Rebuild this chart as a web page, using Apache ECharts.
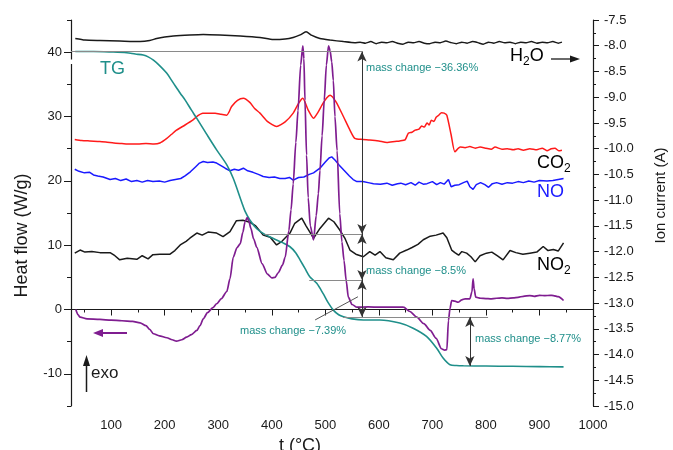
<!DOCTYPE html>
<html><head><meta charset="utf-8">
<script src="https://cdn.jsdelivr.net/npm/echarts@6/dist/echarts.min.js"></script>
<style>html,body{margin:0;padding:0;background:#fff}#c{width:673px;height:450px}</style>
</head><body><div id="c"></div>
<script>
const FONT = '"Liberation Sans", Arial, sans-serif';
// tick labels
const xTicks = [100,200,300,400,500,600,700,800,900,1000];
const xMinorTicks = [50,150,250,350,450,550,650,750,850,950];
const hfTicks = [-10,0,10,20,30,40];
const hfMinorTicks = [-15,-5,5,15,25,35,45];

// Heat flow (W/g), left axis
const heatFlow = [[34,0],[38,-0.8],[42,-1.2],[55,-1.45],[79,-1.55],[100,-1.65],[120,-1.75],[140,-1.85],[154,-2.07],[165,-2.5],[172,-3.1],[179,-3.77],[190,-4.1],[204,-4.39],[214,-4.7],[222,-4.92],[232,-4.7],[241,-4.3],[250,-3.9],[260,-3.26],[266,-2.5],[272,-1.44],[280,-0.5],[290,0.3],[297,0.89],[306,1.7],[316,2.8],[322,4.8],[328,8.1],[335,9.6],[341,10.2],[346,12.0],[350,13.6],[354,14.3],[357,13.8],[361,12.6],[366,11.0],[372,9.67],[382,7.1],[392,5.5],[400,4.92],[406,5.0],[412,5.7],[420,6.9],[425,8.1],[432,12.3],[436,15.5],[440,19.5],[445,26],[449,30.9],[454,38],[458,41.0],[460,39],[462,32.5],[465,24],[468,17.4],[472,13],[478,10.8],[483,14.6],[487,18],[490,21.6],[494,27],[498,32.5],[502,38],[506,41.0],[509,40.2],[512,38.5],[515,35.6],[518,30],[522,24.7],[527,14.9],[531,10.5],[535,7.6],[539,4.5],[543,1.91],[550,0.78],[559,0.36],[580,0.4],[602,0.36],[625,0.38],[646,0.36],[658,-0.31],[671,-1.2],[684,-2.2],[696,-3.26],[707,-4.5],[717,-6.1],[723,-6.3],[727,-6.26],[730,-1.7],[733,0.2],[736,1.4],[742,1.3],[748,1.13],[755,1.5],[761,1.66],[770,1.66],[774,2.8],[776,4.77],[778,3.2],[781,1.91],[790,1.75],[800,1.7],[808,1.66],[820,1.75],[830,1.8],[840,1.72],[851,1.82],[860,1.9],[870,2.05],[882,2.17],[890,2.05],[900,2.2],[910,2.15],[920,2.2],[926,2.17],[935,2.0],[945,1.4]];

// TG, mass %
const tg = [[33,100],[50,100],[67,100],[100,99.9],[129,99.75],[145,99.5],[160,99.3],[170,98.9],[179,98.3],[190,97.3],[204,95.75],[216,93.9],[229,91.9],[238,90.6],[250,88.6],[260,87.0],[278,84.0],[297,80.9],[316,78.0],[328,75.4],[344,70.7],[350,69.0],[359,67.3],[372,65.6],[387,64.5],[403,63.7],[420,62.9],[434,62.1],[445,60.9],[453,59.5],[462,57.9],[471,56.3],[484,55.0],[496,53.0],[505,51.3],[515,49.8],[525,48.9],[534,48.5],[550,48.1],[571,47.9],[602,47.9],[639,47.3],[664,46.3],[689,44.7],[708,42.4],[720,40.5],[733,39.2],[745,39.05],[758,39.0],[800,38.95],[850,38.9],[900,38.85],[945,38.8]];

// Ion currents (A), right axis
const h2o = [[33,-7.86],[51,-7.89],[79,-7.90],[116,-7.91],[154,-7.92],[172,-7.90],[185,-7.86],[200,-7.83],[216,-7.81],[247,-7.79],[272,-7.78],[303,-7.79],[341,-7.81],[378,-7.84],[403,-7.88],[425,-7.87],[440,-7.84],[453,-7.79],[464,-7.73],[475,-7.80],[490,-7.86],[509,-7.89],[534,-7.92],[555,-7.94],[565,-7.93],[575,-7.95],[585,-7.92],[595,-7.96],[605,-7.93],[615,-7.94],[625,-7.92],[635,-7.95],[645,-7.97],[655,-7.93],[665,-7.94],[675,-7.92],[685,-7.95],[695,-7.96],[705,-7.93],[715,-7.94],[725,-7.91],[735,-7.94],[745,-7.96],[755,-7.93],[765,-7.95],[775,-7.92],[785,-7.94],[795,-7.97],[805,-7.93],[815,-7.95],[825,-7.92],[835,-7.94],[845,-7.93],[855,-7.96],[865,-7.93],[875,-7.94],[885,-7.92],[895,-7.95],[905,-7.93],[915,-7.94],[925,-7.92],[935,-7.95],[942,-7.93]];

const co2 = [[32,-9.82],[45,-9.84],[60,-9.85],[75,-9.86],[90,-9.87],[105,-9.89],[120,-9.90],[135,-9.91],[150,-9.91],[165,-9.90],[180,-9.91],[191,-9.89],[204,-9.80],[213,-9.72],[222,-9.64],[238,-9.54],[253,-9.44],[262,-9.36],[271,-9.31],[283,-9.31],[294,-9.31],[305,-9.33],[316,-9.35],[320,-9.29],[325,-9.18],[336,-9.06],[347,-9.02],[359,-9.10],[368,-9.22],[378,-9.31],[393,-9.48],[409,-9.57],[425,-9.48],[440,-9.31],[450,-9.12],[458,-9.02],[468,-9.25],[478,-9.41],[486,-9.30],[494,-9.15],[502,-9.02],[509,-8.96],[520,-9.09],[534,-9.38],[546,-9.64],[555,-9.80],[570,-9.82],[583,-9.83],[600,-9.85],[615,-9.88],[630,-9.86],[639,-9.85],[649,-9.83],[655,-9.70],[662,-9.68],[668,-9.64],[675,-9.62],[680,-9.56],[685,-9.58],[690,-9.50],[694,-9.54],[698,-9.45],[703,-9.47],[707,-9.39],[712,-9.35],[717,-9.30],[722,-9.31],[727,-9.35],[735,-9.73],[742,-10.06],[752,-9.97],[761,-9.98],[770,-9.96],[780,-9.99],[789,-9.97],[800,-9.99],[810,-10.01],[817,-9.97],[830,-10.01],[840,-10.0],[851,-10.02],[860,-10.0],[870,-10.03],[882,-10.0],[895,-10.02],[905,-9.99],[914,-10.04],[922,-10.0],[929,-9.99],[936,-10.04],[942,-10.03]];

const no = [[32,-10.40],[40,-10.44],[50,-10.47],[60,-10.46],[67,-10.51],[75,-10.53],[85,-10.55],[98,-10.60],[108,-10.58],[118,-10.62],[128,-10.59],[138,-10.64],[148,-10.62],[158,-10.65],[168,-10.62],[178,-10.64],[190,-10.63],[200,-10.65],[210,-10.62],[220,-10.60],[230,-10.58],[238,-10.53],[248,-10.45],[258,-10.35],[265,-10.28],[272,-10.25],[280,-10.27],[290,-10.26],[297,-10.28],[305,-10.33],[313,-10.38],[322,-10.43],[330,-10.40],[338,-10.42],[347,-10.38],[355,-10.43],[365,-10.46],[375,-10.50],[384,-10.54],[395,-10.56],[405,-10.55],[415,-10.58],[425,-10.58],[433,-10.56],[440,-10.61],[450,-10.56],[460,-10.55],[470,-10.50],[478,-10.47],[490,-10.38],[500,-10.26],[507,-10.18],[512,-10.16],[518,-10.22],[526,-10.32],[534,-10.41],[545,-10.53],[552,-10.60],[559,-10.64],[570,-10.64],[580,-10.66],[590,-10.68],[603,-10.69],[615,-10.67],[625,-10.71],[635,-10.68],[641,-10.67],[650,-10.70],[660,-10.66],[668,-10.71],[675,-10.65],[683,-10.69],[690,-10.68],[700,-10.64],[708,-10.70],[715,-10.66],[722,-10.69],[730,-10.60],[735,-10.74],[742,-10.71],[750,-10.70],[758,-10.66],[765,-10.63],[770,-10.74],[776,-10.79],[782,-10.70],[790,-10.66],[798,-10.70],[805,-10.75],[812,-10.68],[820,-10.66],[830,-10.69],[840,-10.66],[850,-10.67],[860,-10.64],[870,-10.66],[880,-10.63],[890,-10.65],[900,-10.62],[914,-10.63],[925,-10.62],[935,-10.60],[945,-10.58]];

const no2 = [[32,-12.03],[42,-11.97],[51,-12.01],[64,-12.00],[79,-12.02],[98,-12.02],[107,-12.08],[116,-12.16],[130,-12.13],[148,-12.15],[158,-12.08],[169,-12.14],[178,-12.06],[191,-12.05],[210,-12.05],[219,-11.98],[229,-11.87],[240,-11.80],[247,-11.74],[260,-11.64],[270,-11.68],[281,-11.62],[297,-11.64],[309,-11.71],[322,-11.61],[334,-11.40],[346,-11.39],[359,-11.43],[370,-11.50],[384,-11.68],[397,-11.72],[409,-11.87],[419,-11.80],[434,-11.64],[443,-11.45],[456,-11.35],[464,-11.50],[478,-11.74],[490,-11.55],[506,-11.35],[516,-11.42],[527,-11.58],[537,-11.75],[546,-11.97],[557,-12.05],[571,-12.10],[583,-12.00],[593,-12.07],[602,-12.00],[613,-12.12],[627,-12.16],[639,-12.03],[652,-11.97],[662,-11.92],[673,-11.86],[683,-11.77],[696,-11.70],[707,-11.68],[720,-11.64],[727,-11.73],[736,-11.97],[742,-12.02],[749,-12.07],[755,-12.00],[764,-12.03],[772,-12.10],[780,-12.20],[789,-12.08],[801,-12.03],[811,-12.01],[821,-12.08],[832,-12.16],[845,-11.98],[856,-12.02],[869,-12.05],[882,-12.03],[895,-12.01],[907,-11.90],[916,-11.98],[926,-11.96],[935,-11.99],[945,-11.83]];

// mass change steps (TG %) and annotation texts
const massLevels = [100, 64.58, 55.65, 48.48, 38.97];
const massTexts = ['mass change \u221236.36%', 'mass change \u22128.5%', 'mass change \u22127.39%', 'mass change \u22128.77%'];

const TEAL = '#1f8f8a', RED = '#ff1a1a', BLUE = '#1a1aff', BLACK = '#1a1a1a', PURPLE = '#7f1d90';
const GRAY = '#8a8a8a';

const chart = echarts.init(document.getElementById('c'), null, {renderer: 'canvas'});

const armX = 568.5;
const gl = {color: GRAY, width: 1};
const al = {color: '#333', width: 1};
const arrowSym = {symbol: 'arrow', symbolSize: [7, 10]};
const markData = [
  [{coord: [25, massLevels[0]], lineStyle: gl}, {coord: [armX, massLevels[0]]}],
  [{coord: [387, massLevels[1]], lineStyle: gl}, {coord: [armX, massLevels[1]]}],
  [{coord: [470, massLevels[2]], lineStyle: gl}, {coord: [armX, massLevels[2]]}],
  [{coord: [533, massLevels[3]], lineStyle: gl}, {coord: [804, massLevels[3]]}],
  [Object.assign({coord: [armX, massLevels[0]], lineStyle: al}, arrowSym), Object.assign({coord: [armX, massLevels[1]]}, arrowSym)],
  [Object.assign({coord: [armX, massLevels[1]], lineStyle: al}, arrowSym), Object.assign({coord: [armX, massLevels[2]]}, arrowSym)],
  [Object.assign({coord: [armX, massLevels[2]], lineStyle: al}, arrowSym), Object.assign({coord: [armX, massLevels[3]]}, arrowSym)],
  [Object.assign({coord: [770, massLevels[3]], lineStyle: al}, arrowSym), Object.assign({coord: [770, massLevels[4]]}, arrowSym)],
  [{coord: [481, 47.9], lineStyle: {color: '#555', width: 1}}, {coord: [561, 52.4]}]
];

const tickLabel = {fontFamily: FONT, fontSize: 13, color: '#1a1a1a'};
const axisLine = {show: true, lineStyle: {color: '#1a1a1a', width: 1.2}};

function sub(parts, color, size) {
  // parts: array of [text, isSub]
  const txt = parts.map(p => (p[1] ? '{b|' : '{a|') + p[0] + '}').join('');
  return {
    text: txt,
    rich: {
      a: {fontFamily: FONT, fontSize: size, color: color, verticalAlign: 'bottom', lineHeight: size + 2},
      b: {fontFamily: FONT, fontSize: Math.round(size * 0.68), color: color, verticalAlign: 'bottom', lineHeight: Math.round(size*0.68), padding: [0,0,-3,0]}
    }
  };
}

const option = {
  animation: false,
  backgroundColor: '#fff',
  grid: {left: 71, right: 80, top: 20, bottom: 44, containLabel: false, outerBoundsMode: 'none'},
  xAxis: [
    {type: 'value', min: 25, max: 1000, position: 'bottom',
     axisLine: axisLine,
     axisTick: {show: true, customValues: xTicks, length: 6, lineStyle: {color: '#1a1a1a'}},
     axisLabel: Object.assign({customValues: xTicks, margin: 13, formatter: v => String(v)}, tickLabel),
     splitLine: {show: false},
     name: 't (\u00B0C)', nameLocation: 'middle', nameGap: 27,
     nameTextStyle: {fontFamily: FONT, fontSize: 18, color: '#1a1a1a', padding: [0, 64, 0, 0]}},
    {type: 'value', min: 25, max: 1000, position: 'bottom',
     axisLine: {show: false},
     axisTick: {show: true, customValues: xMinorTicks, length: 3, lineStyle: {color: '#1a1a1a'}},
     axisLabel: {show: false}, splitLine: {show: false}}
  ],
  yAxis: [
    {type: 'value', min: -15, max: 45, position: 'left',
     axisLine: axisLine,
     axisTick: {show: true, customValues: hfTicks, length: 7, lineStyle: {color: '#1a1a1a'}},
     axisLabel: Object.assign({customValues: hfTicks, margin: 9}, tickLabel),
     splitLine: {show: false},
     name: 'Heat flow (W/g)', nameLocation: 'middle', nameRotate: 90, nameGap: 40,
     nameTextStyle: {fontFamily: FONT, fontSize: 18, color: '#1a1a1a', padding: [0, 45, 0, 0]}},
    {type: 'value', min: -15, max: -7.5, interval: 0.5, position: 'right',
     axisLine: axisLine,
     axisTick: {show: true, length: 6, lineStyle: {color: '#1a1a1a'}},
     minorTick: {show: true, splitNumber: 2, length: 3, lineStyle: {color: '#1a1a1a'}},
     axisLabel: Object.assign({margin: 11, formatter: v => v.toFixed(1)}, tickLabel),
     splitLine: {show: false}, minorSplitLine: {show: false},
     name: 'Ion current (A)', nameLocation: 'middle', nameRotate: 90, nameGap: 60,
     nameTextStyle: {fontFamily: FONT, fontSize: 15, color: '#1a1a1a', padding: [0, 0, 0, 35]}},
    {type: 'value', min: -15, max: 45, position: 'left',
     axisLine: {show: false},
     axisTick: {show: true, customValues: hfMinorTicks, length: 4, lineStyle: {color: '#1a1a1a'}},
     axisLabel: {show: false}, splitLine: {show: false}},
    {type: 'value', min: 31.2, max: 106.1, show: false, splitLine: {show: false}}
  ],
  series: [
    {name: 'H2O', type: 'line', xAxisIndex: 0, yAxisIndex: 1, data: h2o, showSymbol: false, smooth: 0.2,
     lineStyle: {color: BLACK, width: 1.5}, itemStyle: {color: BLACK}},
    {name: 'CO2', type: 'line', xAxisIndex: 0, yAxisIndex: 1, data: co2, showSymbol: false, smooth: 0.2,
     lineStyle: {color: RED, width: 1.5}, itemStyle: {color: RED}},
    {name: 'NO', type: 'line', xAxisIndex: 0, yAxisIndex: 1, data: no, showSymbol: false,
     lineStyle: {color: BLUE, width: 1.5}, itemStyle: {color: BLUE}},
    {name: 'NO2', type: 'line', xAxisIndex: 0, yAxisIndex: 1, data: no2, showSymbol: false,
     lineStyle: {color: BLACK, width: 1.5}, itemStyle: {color: BLACK}},
    {name: 'TG', type: 'line', xAxisIndex: 0, yAxisIndex: 3, data: tg, showSymbol: false, smooth: 0.3,
     lineStyle: {color: TEAL, width: 1.6}, itemStyle: {color: TEAL},
     markLine: {silent: true, symbol: ['none', 'none'], label: {show: false}, animation: false,
                lineStyle: {type: 'solid'}, emphasis: {disabled: true}, data: markData}},
    {name: 'Heat flow', type: 'line', xAxisIndex: 0, yAxisIndex: 0, data: heatFlow, showSymbol: false, smooth: 0.25, smoothMonotone: 'x',
     lineStyle: {color: PURPLE, width: 1.7}, itemStyle: {color: PURPLE}}
  ],
  graphic: [
    {type: 'rect', z: 100, shape: {x: 66, y: 59.5, width: 9, height: 4.5}, style: {fill: '#fff'}},
    {type: 'text', z: 100, left: 100, top: 60, style: {text: 'TG', fontFamily: FONT, fontSize: 18, fill: TEAL}},
    {type: 'text', z: 100, left: 510, top: 47, style: sub([['H', 0], ['2', 1], ['O', 0]], BLACK, 18)},
    {type: 'line', z: 100, shape: {x1: 551, y1: 59, x2: 572, y2: 59}, style: {stroke: BLACK, lineWidth: 1.3}},
    {type: 'polygon', z: 100, shape: {points: [[580, 59], [570, 55.5], [570, 62.5]]}, style: {fill: BLACK}},
    {type: 'text', z: 100, left: 537, top: 154, style: sub([['CO', 0], ['2', 1]], RED, 18)},
    {type: 'text', z: 100, left: 537, top: 183, style: {text: 'NO', fontFamily: FONT, fontSize: 18, fill: BLUE}},
    {type: 'text', z: 100, left: 537, top: 256, style: sub([['NO', 0], ['2', 1]], BLACK, 18)},
    {type: 'text', z: 100, left: 366, top: 62, style: {text: massTexts[0], fontFamily: FONT, fontSize: 11, fill: TEAL}},
    {type: 'text', z: 100, left: 366, top: 265, style: {text: massTexts[1], fontFamily: FONT, fontSize: 11, fill: TEAL}},
    {type: 'text', z: 100, left: 240, top: 325, style: {text: massTexts[2], fontFamily: FONT, fontSize: 11, fill: TEAL}},
    {type: 'text', z: 100, left: 475, top: 333, style: {text: massTexts[3], fontFamily: FONT, fontSize: 11, fill: TEAL}},
    {type: 'line', z: 100, shape: {x1: 127, y1: 333, x2: 100, y2: 333}, style: {stroke: PURPLE, lineWidth: 2}},
    {type: 'polygon', z: 100, shape: {points: [[93, 333], [103, 329], [103, 337]]}, style: {fill: PURPLE}},
    {type: 'line', z: 100, shape: {x1: 86.5, y1: 392, x2: 86.5, y2: 364}, style: {stroke: BLACK, lineWidth: 1.5}},
    {type: 'polygon', z: 100, shape: {points: [[86.5, 355], [83, 366], [90, 366]]}, style: {fill: BLACK}},
    {type: 'text', z: 100, left: 91, top: 365, style: {text: 'exo', fontFamily: FONT, fontSize: 17, fill: BLACK}}
  ]
};
chart.setOption(option);
</script>
</body></html>
